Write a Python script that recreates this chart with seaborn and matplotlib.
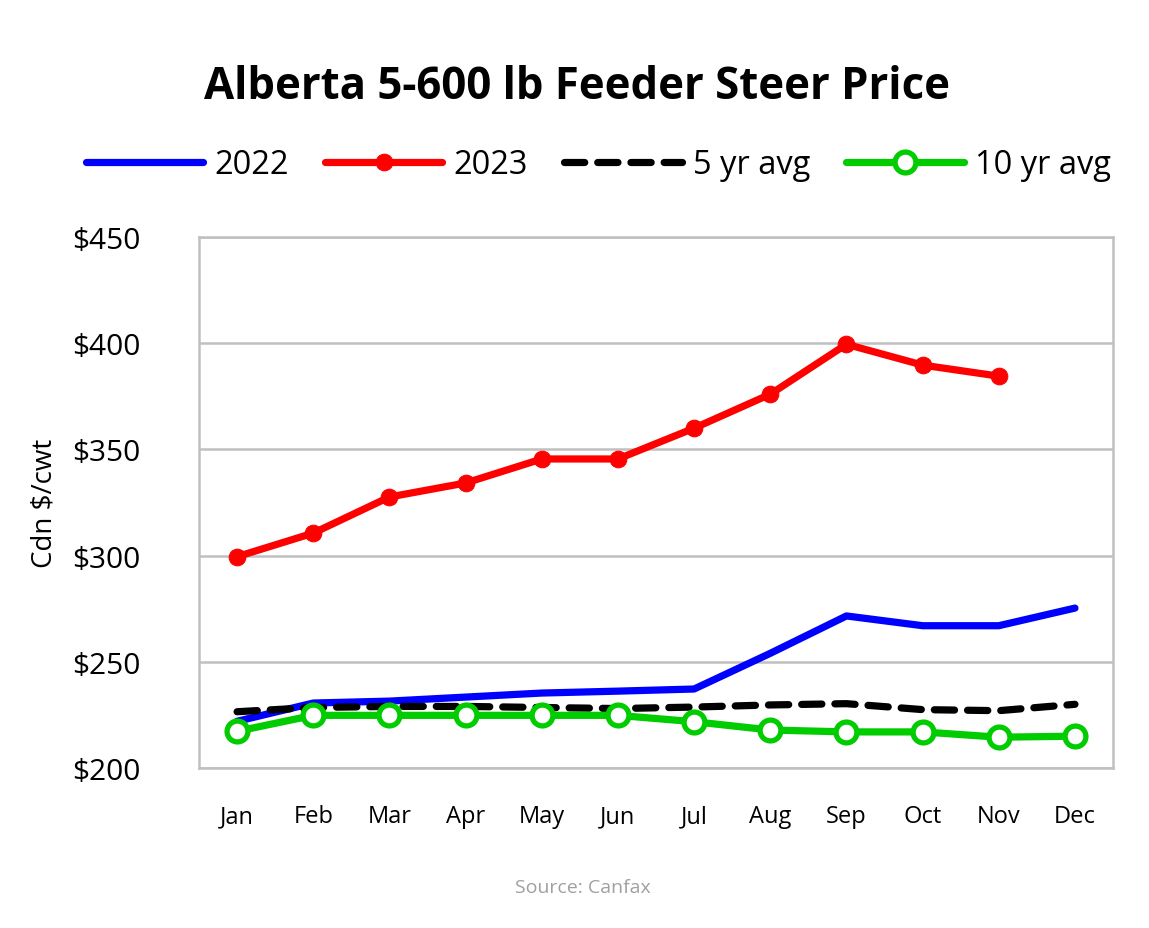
import matplotlib
matplotlib.use("Agg")
import matplotlib.pyplot as plt
import pandas as pd
import seaborn as sns

months = ["Jan", "Feb", "Mar", "Apr", "May", "Jun",
          "Jul", "Aug", "Sep", "Oct", "Nov", "Dec"]
price_2022 = [222, 230.6, 231.5, 233.4, 235.3, 236.2, 237.2, 254, 271.6, 267, 267, 275.3]
price_2023 = [299.5, 310.6, 327.6, 334.2, 345.5, 345.5, 360, 376, 399.5, 389.7, 384.5]
avg_5yr = [226.5, 228.5, 229, 229, 228.5, 228, 228.7, 229.7, 230.3, 227.5, 227, 230]
avg_10yr = [217.3, 224.8, 224.8, 224.8, 224.8, 224.8, 221.8, 217.9, 217, 217, 214.5, 215]

df = pd.DataFrame({"month": months, "2022": price_2022,
                   "2023": price_2023 + [None], "5 yr avg": avg_5yr,
                   "10 yr avg": avg_10yr})
df["x"] = range(len(months))

sns.set_theme(style="white")
plt.rcParams["font.family"] = ["Open Sans", "DejaVu Sans"]
for key in ["text.color", "axes.labelcolor", "xtick.color", "ytick.color"]:
    plt.rcParams[key] = "black"

fig = plt.figure(figsize=(11.49, 9.29), dpi=100)
ax = fig.add_axes([0.1732, 0.1722, 0.7955, 0.5716])

lw = 5.2
sns.lineplot(data=df, x="x", y="2022", ax=ax, color="#0000ff", linewidth=lw,
             label="2022", solid_capstyle="round")
sns.lineplot(data=df, x="x", y="2023", ax=ax, color="#ff0000", linewidth=lw,
             marker="o", markersize=12, markeredgecolor="#ff0000", label="2023")
sns.lineplot(data=df, x="x", y="5 yr avg", ax=ax, color="black", linewidth=lw,
             dashes=(2.8, 1.8), label="5 yr avg", dash_capstyle="round")
sns.lineplot(data=df, x="x", y="10 yr avg", ax=ax, color="#00cc00", linewidth=lw,
             marker="o", markersize=15, markerfacecolor="white",
             markeredgecolor="#00cc00", markeredgewidth=3.8, label="10 yr avg")

ax.set_xlim(-0.5, 11.5)
ax.set_ylim(200, 450)
ax.set_yticks([200, 250, 300, 350, 400, 450])
ax.set_yticklabels([f"${v}" for v in [200, 250, 300, 350, 400, 450]], fontsize=21.5)
ax.set_xticks(df["x"])
ax.set_xticklabels(months, fontsize=17)
ax.tick_params(axis="y", pad=42, length=0)
ax.tick_params(axis="x", pad=26, length=0)
ax.yaxis.grid(True, color="#c0c0c0", linewidth=1.8)
for s in ax.spines.values():
    s.set_color("#c0c0c0")
    s.set_linewidth(1.8)

ax.set_xlabel("")
ax.set_ylabel("Cdn $/cwt", fontsize=20, labelpad=10)

ax.legend(loc="lower center", bbox_to_anchor=(0.437, 1.05), ncol=4, frameon=False,
          fontsize=23.5, handlelength=3.6, columnspacing=1.1, handletextpad=0.35)

fig.text(0.502, 0.906, "Alberta 5-600 lb Feeder Steer Price", ha="center",
         va="center", fontsize=31.5, fontweight="bold")
fig.text(0.507, 0.044, "Source: Canfax", ha="center", va="center",
         fontsize=14, color="#a0a0a0")

fig.savefig("out.png", dpi=100)
